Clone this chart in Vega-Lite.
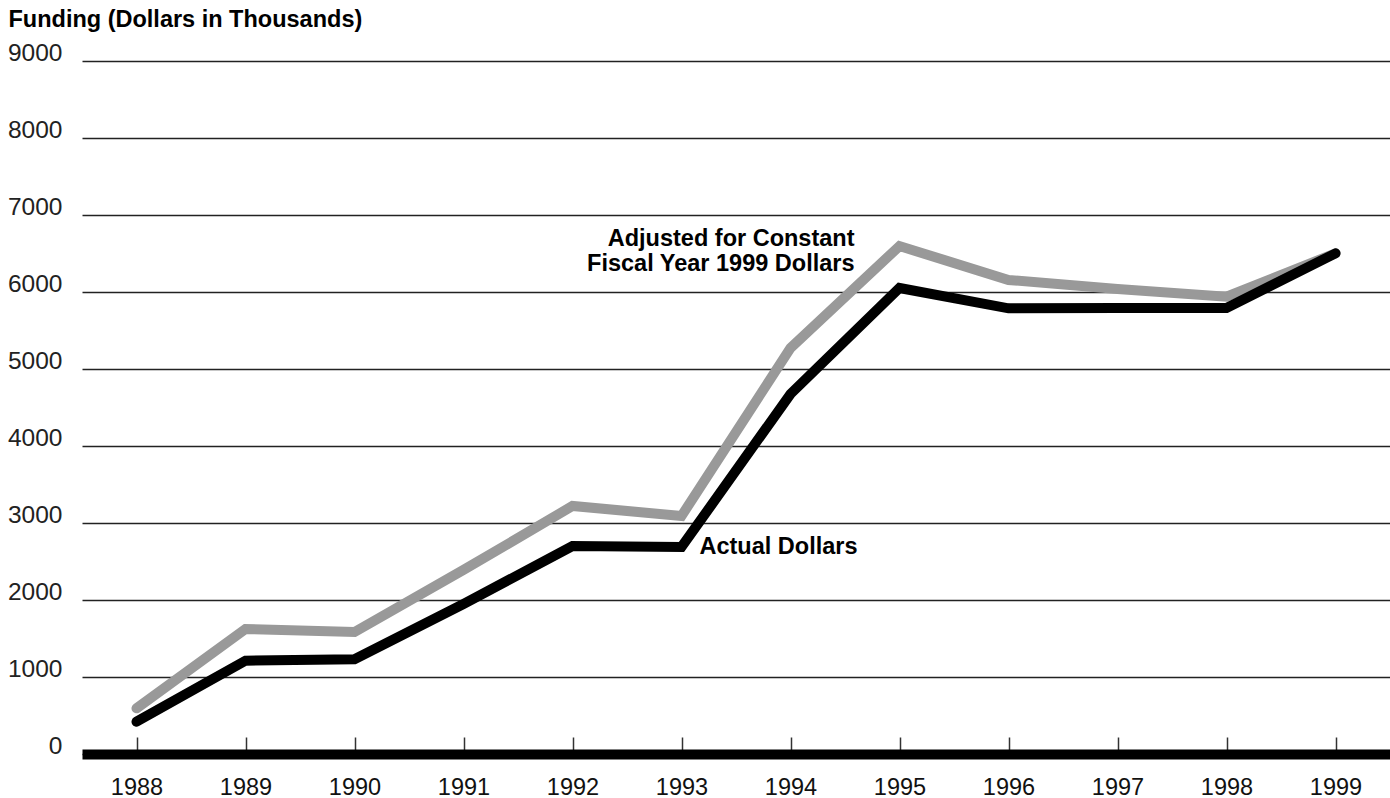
{
  "$schema": "https://vega.github.io/schema/vega-lite/v6.json",
  "width": 1308,
  "height": 693,
  "autosize": {"type": "none"},
  "padding": {"left": 82, "top": 61, "right": 0, "bottom": 44},
  "background": "white",
  "config": {"view": {"stroke": null}, "font": "Liberation Sans"},
  "data": {
    "values": [
      {"year": 1988, "series": "Adjusted", "value": 593},
      {"year": 1989, "series": "Adjusted", "value": 1623},
      {"year": 1990, "series": "Adjusted", "value": 1584},
      {"year": 1991, "series": "Adjusted", "value": 2390},
      {"year": 1992, "series": "Adjusted", "value": 3221},
      {"year": 1993, "series": "Adjusted", "value": 3091},
      {"year": 1994, "series": "Adjusted", "value": 5273},
      {"year": 1995, "series": "Adjusted", "value": 6597},
      {"year": 1996, "series": "Adjusted", "value": 6156},
      {"year": 1997, "series": "Adjusted", "value": 6039},
      {"year": 1998, "series": "Adjusted", "value": 5939},
      {"year": 1999, "series": "Adjusted", "value": 6502},
      {"year": 1988, "series": "Actual", "value": 419},
      {"year": 1989, "series": "Actual", "value": 1212},
      {"year": 1990, "series": "Actual", "value": 1230},
      {"year": 1991, "series": "Actual", "value": 1948},
      {"year": 1992, "series": "Actual", "value": 2701},
      {"year": 1993, "series": "Actual", "value": 2688},
      {"year": 1994, "series": "Actual", "value": 4675},
      {"year": 1995, "series": "Actual", "value": 6052},
      {"year": 1996, "series": "Actual", "value": 5788},
      {"year": 1997, "series": "Actual", "value": 5792},
      {"year": 1998, "series": "Actual", "value": 5792},
      {"year": 1999, "series": "Actual", "value": 6502}
    ]
  },
  "layer": [
    {
      "transform": [{"filter": "datum.series === 'Adjusted'"}],
      "mark": {"type": "line", "stroke": "#999999", "strokeWidth": 10, "strokeCap": "round"},
      "encoding": {
        "x": {
          "field": "year", "type": "ordinal",
          "scale": {"padding": 0.5},
          "axis": {
            "title": null, "labelAngle": 0, "labelFontSize": 23.5, "labelColor": "#111",
            "labelBaseline": "alphabetic", "labelPadding": 57,
            "domain": true, "domainColor": "#000", "domainWidth": 10,
            "ticks": true, "tickSize": -17, "tickColor": "#333", "tickWidth": 1.5,
            "grid": false
          }
        },
        "y": {
          "field": "value", "type": "quantitative",
          "scale": {"domain": [0, 9000], "nice": false},
          "axis": {
            "values": [0, 1000, 2000, 3000, 4000, 5000, 6000, 7000, 8000, 9000],
            "format": "d",
            "grid": true, "gridColor": "#222", "gridWidth": 1.3,
            "domain": false, "ticks": false,
            "labelFontSize": 24.5, "labelColor": "#222", "labelPadding": 20,
            "labelBaseline": "alphabetic", "labelOffset": -1,
            "title": "Funding (Dollars in Thousands)",
            "titleAngle": 0, "titleAlign": "left", "titleBaseline": "alphabetic",
            "titleX": -74, "titleY": -35, "titleFontSize": 23.5, "titleFontWeight": "bold",
            "titleColor": "#000"
          }
        }
      }
    },
    {
      "transform": [{"filter": "datum.series === 'Actual'"}],
      "mark": {"type": "line", "stroke": "#000000", "strokeWidth": 10, "strokeCap": "round"},
      "encoding": {
        "x": {"field": "year", "type": "ordinal"},
        "y": {"field": "value", "type": "quantitative"}
      }
    },
    {
      "data": {"values": [{"note": ["Adjusted for Constant", "Fiscal Year 1999 Dollars"]}]},
      "mark": {"type": "text", "align": "right", "baseline": "alphabetic", "dx": 64, "fontSize": 23.5, "fontWeight": "bold", "lineHeight": 25, "color": "#000"},
      "encoding": {
        "x": {"datum": 1994, "type": "ordinal"},
        "y": {"datum": 6600, "type": "quantitative"},
        "text": {"field": "note"}
      }
    },
    {
      "data": {"values": [{"note": "Actual Dollars"}]},
      "mark": {"type": "text", "align": "left", "baseline": "alphabetic", "dx": 18, "fontSize": 23.5, "fontWeight": "bold", "color": "#000"},
      "encoding": {
        "x": {"datum": 1993, "type": "ordinal"},
        "y": {"datum": 2597, "type": "quantitative"},
        "text": {"field": "note"}
      }
    }
  ]
}
